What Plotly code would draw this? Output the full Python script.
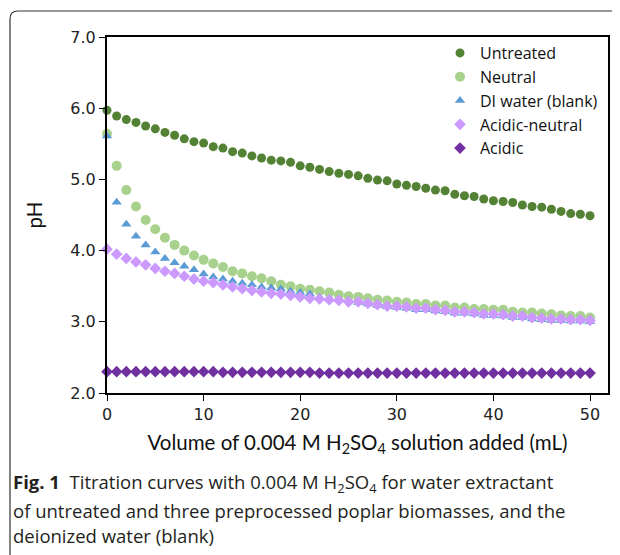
import plotly.graph_objects as go

volume_ml = list(range(0, 51))

ph_untreated = [5.97, 5.89, 5.84, 5.80, 5.75, 5.71, 5.66, 5.62, 5.57, 5.53,
                5.51, 5.46, 5.44, 5.39, 5.37, 5.33, 5.30, 5.27, 5.26, 5.24,
                5.19, 5.17, 5.14, 5.11, 5.085, 5.07, 5.05, 5.015, 4.99, 4.98,
                4.935, 4.917, 4.90, 4.875, 4.85, 4.84, 4.79, 4.77, 4.76, 4.725,
                4.70, 4.69, 4.675, 4.64, 4.62, 4.61, 4.58, 4.55, 4.52, 4.51, 4.49]

ph_neutral = [5.64, 5.19, 4.85, 4.62, 4.43, 4.30, 4.18, 4.08, 4.00, 3.93,
              3.87, 3.82, 3.77, 3.71, 3.68, 3.64, 3.61, 3.57, 3.52, 3.50,
              3.465, 3.45, 3.43, 3.41, 3.38, 3.36, 3.35, 3.33, 3.31, 3.30,
              3.28, 3.27, 3.25, 3.25, 3.23, 3.23, 3.20, 3.20, 3.18, 3.18,
              3.17, 3.17, 3.14, 3.13, 3.13, 3.115, 3.105, 3.09, 3.08, 3.08, 3.06]

ph_di_water = [5.61, 4.68, 4.37, 4.20, 4.08, 3.98, 3.89, 3.83, 3.78, 3.73,
               3.67, 3.63, 3.60, 3.57, 3.54, 3.52, 3.49, 3.475, 3.46, 3.43,
               3.41, 3.39, 3.34, 3.32, 3.31, 3.30, 3.27, 3.25, 3.23, 3.21,
               3.20, 3.19, 3.17, 3.17, 3.15, 3.14, 3.12, 3.12, 3.11, 3.09,
               3.09, 3.08, 3.06, 3.06, 3.04, 3.03, 3.02, 3.02, 3.01, 3.01, 3.00]

ph_acidic_neutral = [4.02, 3.95, 3.89, 3.84, 3.80, 3.75, 3.71, 3.68, 3.64, 3.60,
                     3.57, 3.55, 3.52, 3.49, 3.465, 3.44, 3.42, 3.40, 3.39, 3.37,
                     3.35, 3.33, 3.32, 3.31, 3.30, 3.28, 3.28, 3.26, 3.24, 3.22,
                     3.22, 3.21, 3.19, 3.19, 3.17, 3.16, 3.14, 3.14, 3.13, 3.11,
                     3.11, 3.10, 3.08, 3.08, 3.06, 3.05, 3.04, 3.04, 3.03, 3.03, 3.02]

ph_acidic = [2.30, 2.30, 2.30, 2.30, 2.30, 2.30, 2.30, 2.30, 2.30, 2.30,
             2.30, 2.30, 2.29, 2.29, 2.29, 2.29, 2.29, 2.29, 2.29, 2.29,
             2.29, 2.29, 2.28, 2.28, 2.28, 2.28, 2.28, 2.28, 2.28, 2.28,
             2.28, 2.28, 2.28, 2.28, 2.28, 2.28, 2.28, 2.28, 2.28, 2.28,
             2.28, 2.28, 2.28, 2.28, 2.28, 2.28, 2.28, 2.28, 2.28, 2.28, 2.28]

x_ticks = [0, 10, 20, 30, 40, 50]
y_ticks = [2.0, 3.0, 4.0, 5.0, 6.0, 7.0]
y_tick_labels = ["2.0", "3.0", "4.0", "5.0", "6.0", "7.0"]

series = [
    ("Untreated", ph_untreated, "#548235", "circle", 9),
    ("Neutral", ph_neutral, "#A9D18E", "circle", 10),
    ("DI water (blank)", ph_di_water, "#5B9BD5", "triangle-up", 9),
    ("Acidic-neutral", ph_acidic_neutral, "#CC99FF", "diamond", 9),
    ("Acidic", ph_acidic, "#7030A0", "diamond", 9),
]

fig = go.Figure()
for name, vals, color, symbol, size in series:
    fig.add_trace(go.Scatter(
        x=volume_ml, y=vals, mode="markers", name=name,
        marker=dict(color=color, symbol=symbol, size=size, line=dict(width=0)),
        cliponaxis=False,
    ))

# page body has an 8px default margin; lay out in page coordinates
O = 8
W, H = 620 - O, 555 - O
L, R = 107 - O, 12
T, B = 37 - O, 162
pw, ph = W - L - R, H - T - B

def px(xp):
    return (xp - O - L) / pw

def py(yp):
    return (H - B - (yp - O)) / ph

# outer card border (rounded top-left corner)
card_path = (f"M {px(621)},{py(11)} L {px(18)},{py(11)} "
             f"Q {px(10)},{py(11)} {px(10)},{py(19)} L {px(10)},{py(556)}")

title_font = dict(family="Lato", size=20.5, color="#111111")

fig.update_layout(
    width=W, height=H,
    margin=dict(l=L, r=R, t=T, b=B, autoexpand=False),
    paper_bgcolor="white", plot_bgcolor="white",
    font=dict(family="DejaVu Sans", size=16, color="#222222"),
    showlegend=True,
    legend=dict(x=px(440), y=py(36), xanchor="left", yanchor="top",
                bgcolor="rgba(0,0,0,0)", borderwidth=0,
                font=dict(family="Open Sans", size=16, color="#111111"),
                itemsizing="trace", tracegroupgap=0),
    xaxis=dict(range=[0, 51.86], tickmode="array", tickvals=x_ticks,
               automargin=False,
               showgrid=False, zeroline=False, showline=True, linecolor="black",
               linewidth=2, mirror=True, ticks="outside", ticklen=6,
               tickcolor="black", tickwidth=1,
               tickfont=dict(family="DejaVu Sans", size=16, color="#222222"),
               title=dict(text="Volume of 0.004 M H<sub>2</sub>SO<sub>4</sub> solution added (mL)",
                          font=title_font, standoff=12)),
    yaxis=dict(range=[2.0, 7.0], tickmode="array", tickvals=y_ticks,
               ticktext=y_tick_labels, automargin=False,
               showgrid=False, zeroline=False, showline=True, linecolor="black",
               linewidth=2, mirror=True, ticks="outside", ticklen=6,
               tickcolor="black", tickwidth=1,
               tickfont=dict(family="DejaVu Sans", size=16, color="#222222"),
               title=dict(text="pH", font=title_font, standoff=22)),
    shapes=[dict(type="path", xref="paper", yref="paper", path=card_path,
                 line=dict(color="#333333", width=1.2), fillcolor="rgba(0,0,0,0)")],
)

cap_font = dict(family="Open Sans", size=18.5, color="#231f20")
captions = [
    ("<b>Fig. 1</b>  Titration curves with 0.004 M H<sub>2</sub>SO<sub>4</sub> for water extractant", 483),
    ("of untreated and three preprocessed poplar biomasses, and the", 510),
    ("deionized water (blank)", 535),
]
for text, yp in captions:
    fig.add_annotation(text=text, xref="paper", yref="paper", x=px(11), y=py(yp),
                       xanchor="left", yanchor="middle", showarrow=False, font=cap_font)

fig.write_html("out.html")
